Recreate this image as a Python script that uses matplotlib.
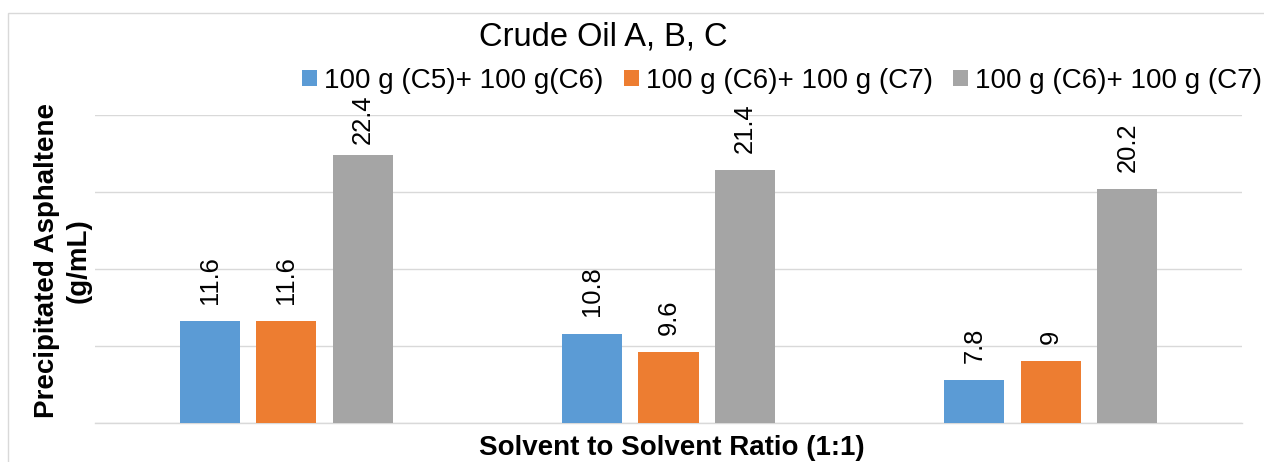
import matplotlib
matplotlib.use("Agg")
import matplotlib.pyplot as plt
from matplotlib.patches import Rectangle
import numpy as np

plt.rcParams['font.family'] = ['Liberation Sans', 'DejaVu Sans']

# ---- data ----
categories = ["Crude Oil A", "Crude Oil B", "Crude Oil C"]
series_names = ["100 g (C5)+ 100 g(C6)", "100 g (C6)+ 100 g (C7)", "100 g (C6)+ 100 g (C7)"]
series_c5c6 = [11.6, 10.8, 7.8]
series_c6c7_a = [11.6, 9.6, 9.0]
series_c6c7_b = [22.4, 21.4, 20.2]
label_texts = [["11.6", "10.8", "7.8"], ["11.6", "9.6", "9"], ["22.4", "21.4", "20.2"]]
colors = ["#5B9BD5", "#ED7D31", "#A5A5A5"]
title = "Crude Oil A, B, C"
xlabel = "Solvent to Solvent Ratio (1:1)"
ylabel = "Precipitated Asphaltene\n(g/mL)"

W, H = 1264, 462
fig = plt.figure(figsize=(W / 100, H / 100), dpi=100)

# axes placement (pixels -> figure fraction)
ax_l, ax_r, ax_t, ax_b = 95, 1242, 115, 423
ax = fig.add_axes([ax_l / W, 1 - ax_b / H, (ax_r - ax_l) / W, (ax_b - ax_t) / H])

x = np.arange(len(categories))
offsets = [-0.2, 0.0, 0.2]
bar_w = 0.157
all_series = [series_c5c6, series_c6c7_a, series_c6c7_b]
handles = []
annots = []
for s, (vals, off, col, name) in enumerate(zip(all_series, offsets, colors, series_names)):
    bars = ax.bar(x + off, vals, width=bar_w, bottom=0, color=col, label=name, zorder=3)
    handles.append(bars)
    for xi, v, txt in zip(x + off, vals, label_texts[s]):
        a = ax.annotate(txt, (xi, v), xytext=(0, 12.5), textcoords="offset points",
                        rotation=90, ha="center", va="bottom", fontsize=18.4,
                        color="#000000", zorder=4, annotation_clip=False)
        annots.append(a)

ax.set_xlim(-0.5, len(categories) - 0.5)
ax.set_ylim(5, 25)
ax.set_yticks([5, 10, 15, 20, 25])
ax.yaxis.grid(True, color="#D9D9D9", linewidth=1.0, zorder=0)
ax.set_axisbelow(True)
ax.tick_params(axis="both", length=0, labelleft=False, labelbottom=False)
ax.set_xticks(x)
for sp in ["left", "right", "top"]:
    ax.spines[sp].set_visible(False)
ax.spines["bottom"].set_color("#D9D9D9")
ax.spines["bottom"].set_linewidth(1.0)
ax.patch.set_alpha(0)

# title
fig.text(603 / W, 1 - 37 / H, title, ha="center", va="center", fontsize=23.5, color="#000000")

# legend
fig.legend(handles=handles, labels=series_names, loc="center",
           bbox_to_anchor=(782 / W, 1 - 81 / H), ncol=3, frameon=False,
           fontsize=20, handlelength=0.54, handleheight=0.54, handletextpad=0.25,
           columnspacing=0.75, borderpad=0, borderaxespad=0)

# axis labels
fig.text(63 / W, 1 - 261 / H, ylabel, rotation=90, ha="center", va="center",
         fontsize=20, fontweight="bold", multialignment="center", linespacing=1.3)
fig.text(672 / W, 1 - 448 / H, xlabel, ha="center", va="center",
         fontsize=20, fontweight="bold")

# keep data labels inside the chart's label zone (like the spreadsheet does)
fig.canvas.draw()
renderer = fig.canvas.get_renderer()
top_limit = H - 95  # display coords (origin bottom-left)
for a in annots:
    bb = a.get_window_extent(renderer)
    if bb.y1 > top_limit:
        shift_px = bb.y1 - top_limit
        dx, dy = a.xyann
        a.xyann = (dx, dy - shift_px * 72 / fig.dpi)

# chart border (cropped on right/bottom)
fig.add_artist(Rectangle((8 / W, -0.2), 1.5, (H - 13) / H + 0.2, fill=False,
                         edgecolor="#D9D9D9", linewidth=1.0, transform=fig.transFigure))

fig.savefig("out.png", dpi=100)
